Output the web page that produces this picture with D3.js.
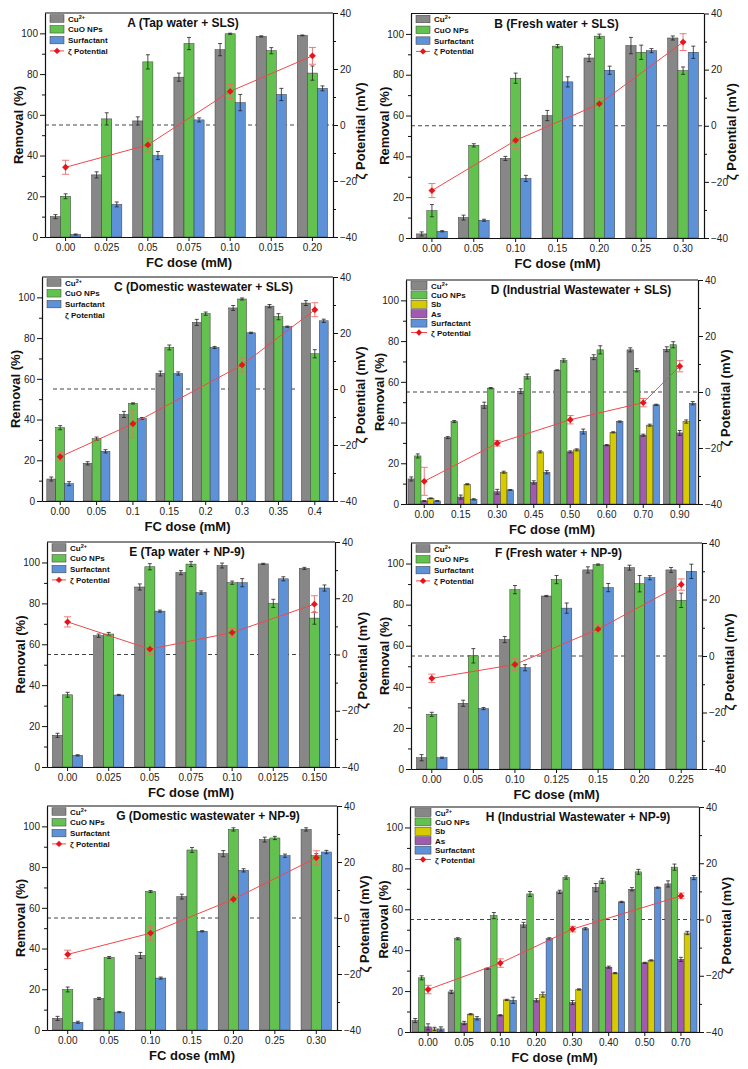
<!DOCTYPE html>
<html><head><meta charset="utf-8">
<script src="https://cdn.jsdelivr.net/npm/d3@7"></script>
<style>body{margin:0;background:#fff}svg{display:block;font-family:"Liberation Sans",Arial,sans-serif}</style>
</head><body><svg id="chart" width="748" height="1069"></svg>
<script>
// ---------------- DATA ----------------
const titles = ["A (Tap water + SLS)","B (Fresh water + SLS)","C (Domestic wastewater + SLS)","D (Industrial Wastewater + SLS)",
  "E (Tap water + NP-9)","F (Fresh water + NP-9)","G (Domestic wastewater + NP-9)","H (Industrial Wastewater + NP-9)"];
const yTicks = [0,20,40,60,80,100];
const zTicks = [-40,-20,0,20,40];

// Panel A
const catsA = ["0.00","0.025","0.05","0.075","0.10","0.015","0.20"];
const cuA = [10,30.5,57,78.5,92,98.5,99];
const cuErrA = [1,1.5,2,2,3,0.3,0.2];
const cuoA = [20,58,86,95,99.8,91.5,80.5];
const cuoErrA = [1.2,3,3.5,3,0.3,1.5,3.5];
const surfA = [1.2,16,40,57.5,66,70,73];
const surfErrA = [0.3,1.2,2,1,4,3,1.2];
const zetaA = [-15.1,null,-7.1,null,12,null,24.7];
const zetaErrA = [2.5,null,2.5,null,2.5,null,3];

// Panel B
const catsB = ["0.00","0.05","0.10","0.15","0.20","0.25","0.30"];
const cuB = [2,10,39,60,88.2,94.3,98];
const cuErrB = [1,1.2,1,2.5,1.8,4,1];
const cuoB = [13.4,45.4,78.3,94,98.9,91,82];
const cuoErrB = [3,0.8,2.5,0.8,1,3.5,1.8];
const surfB = [3.3,8.7,29.2,76.5,82.2,91.8,91];
const surfErrB = [0.3,0.5,1.5,2.5,2,1,3];
const zetaB = [-23.1,null,-5.2,null,7.8,null,29.8];
const zetaErrB = [2.5,null,3,null,2,null,3];

// Panel C
const catsC = ["0.00","0.05","0.1","0.15","0.2","0.3","0.35","0.4"];
const cuC = [10.8,18.5,42.5,62.6,87.7,94.8,95.7,97.2];
const cuErrC = [1,0.8,1.5,1.2,1.5,1.2,0.8,1.2];
const cuoC = [36,30.6,47.9,75.4,92,99.2,90.5,72.3];
const cuoErrC = [1,0.8,0.3,1.2,0.8,0.5,1.5,2];
const surfC = [8.5,24.4,40.5,62.6,75.4,82.6,85.6,88.5];
const surfErrC = [1,0.8,0.5,0.8,0.5,0.3,0.3,0.8];
const zetaC = [-24.2,null,-12.4,null,null,8.6,null,28.3];
const zetaErrC = [1.5,null,5,null,null,2.5,null,2.5];

// Panel D
const catsD = ["0.00","0.15","0.30","0.45","0.50","0.60","0.70","0.90"];
const cuD = [12.3,32.6,48.5,55.4,65.7,72.1,75.7,76];
const cuErrD = [1,0.5,1.5,1.2,0.2,1.2,1,1.2];
const cuoD = [23.6,40.5,56.9,62.6,70.5,75.7,65.7,78.2];
const cuoErrD = [1,0.5,0.3,1.2,0.8,2,0.8,1.5];
const asD = [1.5,3.4,6,10.6,25.6,28.9,33.8,34.9];
const asErrD = [0.2,1,1.2,0.8,0.5,0.3,0.5,1.2];
const sbD = [2.8,9.7,15.6,25.6,26.6,35.2,38.7,40.5];
const sbErrD = [0.2,0.3,0.5,0.5,0.5,0.3,0.5,0.8];
const surfD = [1.5,2.3,6.9,15.6,35.6,40.5,48.7,49.5];
const surfErrD = [0.2,0.3,0.2,0.8,1.2,0.3,0.3,0.8];
const zetaD = [-31.9,null,-18.3,null,-9.9,null,-3.8,9.2];
const zetaErrD = [5,null,1,null,1.5,null,1.5,2];

// Panel E
const catsE = ["0.00","0.025","0.05","0.075","0.10","0.0125","0.150"];
const cuE = [15.5,64.2,88,95,98.5,99.3,97.1];
const cuErrE = [1,0.8,1.5,1,1.2,0.3,0.5];
const cuoE = [35.3,65,97.9,99.2,90.1,80,72.8];
const cuoErrE = [1.2,0.8,1.5,1.2,0.8,2,3];
const surfE = [5.7,35.2,76.2,85.3,90.1,92,87.5];
const surfErrE = [0.3,0.3,0.5,0.8,2,1,1.5];
const zetaE = [11.6,null,1.9,null,7.8,null,17.9];
const zetaErrE = [1.8,null,2,null,1.5,null,3];

// Panel F
const catsF = ["0.00","0.05","0.10","0.125","0.15","0.20","0.225"];
const cuF = [5.5,32,63,84.2,96.9,98,96.9];
const cuErrF = [1.5,1.5,1.5,0.3,1.5,1.2,1.2];
const cuoF = [26.6,55.1,87.3,92.2,99.5,90.2,82.1];
const cuoErrF = [1,3.5,2,2,0.3,4,3.5];
const surfF = [5.5,29.4,49.3,78.3,88.3,93.1,96.2];
const surfErrF = [0.3,0.5,1.5,2.5,2,1,3.5];
const zetaF = [-7.9,null,-3,null,9.5,null,25.3];
const zetaErrF = [1.5,null,2,null,1.5,null,2];

// Panel G
const catsG = ["0.00","0.05","0.10","0.15","0.20","0.25","0.30"];
const cuG = [5.7,15.5,36.6,65.5,86.6,93.5,98.5];
const cuErrG = [1,0.5,1.5,1.2,1.5,1.2,0.8];
const cuoG = [19.9,35.6,68,88.4,98.5,94.3,85.6];
const cuoErrG = [1.2,0.5,0.5,1.2,0.8,0.8,1];
const surfG = [3.8,8.8,25.5,48.5,78.4,85.6,87.4];
const surfErrG = [0.5,0.3,0.5,0.3,0.8,0.8,0.8];
const zetaG = [-13,null,-5.4,null,6.7,null,21.5];
const zetaErrG = [1.5,null,2.5,null,1.5,null,2.5];

// Panel H
const catsH = ["0.00","0.05","0.10","0.20","0.30","0.40","0.50","0.70"];
const cuH = [5.6,19.6,31,52.4,68.5,70.6,69.8,72.4];
const cuErrH = [1,0.8,0.3,1.2,0.8,2,0.8,1.5];
const cuoH = [26.5,45.6,56.9,67.5,75.5,73.9,78.3,80.6];
const cuoErrH = [1,0.5,1.5,1.2,0.8,1.2,1.2,1.5];
const asH = [2.5,4.4,8.2,15.5,14.4,31.7,33.8,35.5];
const asErrH = [1.5,0.8,0.3,0.8,1,0.5,0.3,1];
const sbH = [1.5,8.7,15.7,18.3,20.8,28.8,35,48.4];
const sbErrH = [0.8,0.3,0.3,1.2,0.3,0.3,0.3,0.8];
const surfH = [1.5,6.7,15.5,45.6,50.5,63.6,70.6,75.5];
const surfErrH = [1,0.8,1.5,0.5,0.5,0.3,0.3,1];
const zetaH = [-24.9,null,-15.5,null,-3.4,null,null,8.4];
const zetaErrH = [1.5,null,1.5,null,1,null,null,1];

// ---------------- STYLE ----------------
const COLORS = {cu:"#878787", cuo:"#63c24f", sb:"#d6cb00", as:"#a05aae", surf:"#5e92d8", zeta:"#e8141b"};
const NAMES = {cu:"Cu", cuo:"CuO NPs", sb:"Sb", as:"As", surf:"Surfactant"};

const panels = [
  {cats:catsA, bars:[["cu",cuA,cuErrA],["cuo",cuoA,cuoErrA],["surf",surfA,surfErrA]], zeta:zetaA, zetaErr:zetaErrA, x0:45,x1:333,y0:13,y1:237,tdx:-6},
  {cats:catsB, bars:[["cu",cuB,cuErrB],["cuo",cuoB,cuoErrB],["surf",surfB,surfErrB]], zeta:zetaB, zetaErr:zetaErrB, x0:411,x1:704,y0:13.5,y1:238,tdx:-1},
  {cats:catsC, bars:[["cu",cuC,cuErrC],["cuo",cuoC,cuoErrC],["surf",surfC,surfErrC]], zeta:zetaC, zetaErr:zetaErrC, x0:42,x1:333,y0:277,y1:501,tdx:16, noZetaLegend:true, dash:[11,35]},
  {cats:catsD, bars:[["cu",cuD,cuErrD],["cuo",cuoD,cuoErrD],["as",asD,asErrD],["sb",sbD,sbErrD],["surf",surfD,surfErrD]], legendOrder:["cu","cuo","sb","as","surf"], zeta:zetaD, zetaErr:zetaErrD, x0:406,x1:698,y0:280,y1:504,tdx:29},
  {cats:catsE, bars:[["cu",cuE,cuErrE],["cuo",cuoE,cuoErrE],["surf",surfE,surfErrE]], zeta:zetaE, zetaErr:zetaErrE, x0:47,x1:335,y0:542,y1:767,tdx:-4},
  {cats:catsF, bars:[["cu",cuF,cuErrF],["cuo",cuoF,cuoErrF],["surf",surfF,surfErrF]], zeta:zetaF, zetaErr:zetaErrF, x0:411,x1:702,y0:543,y1:769,tdx:2},
  {cats:catsG, bars:[["cu",cuG,cuErrG],["cuo",cuoG,cuoErrG],["surf",surfG,surfErrG]], zeta:zetaG, zetaErr:zetaErrG, x0:47,x1:337,y0:806,y1:1030,tdx:16},
  {cats:catsH, bars:[["cu",cuH,cuErrH],["cuo",cuoH,cuoErrH],["as",asH,asErrH],["sb",sbH,sbErrH],["surf",surfH,surfErrH]], legendOrder:["cu","cuo","sb","as","surf"], zeta:zetaH, zetaErr:zetaErrH, x0:410,x1:699,y0:807,y1:1032,tdx:23.5}
];

const svg = d3.select("#chart");

function drawPanel(p, idx) {
  const g = svg.append("g");
  const x = d3.scaleBand().domain(p.cats).range([p.x0, p.x1]).paddingInner(0).paddingOuter(0);
  const y = d3.scaleLinear().domain([0,110]).range([p.y1, p.y0]);
  const yz = d3.scaleLinear().domain([-40,40]).range([p.y1, p.y0]);
  const n = p.bars.length;
  const bw = n === 3 ? x.step()*0.245 : x.step()*0.178;
  const xs = d3.scaleBand().domain(d3.range(n)).range([-bw*n/2, bw*n/2]);
  const cx = c => x(c) + x.bandwidth()/2;

  // dashed zero line
  const dash = p.dash || [0,0];
  g.append("line").attr("x1", p.x0 + dash[0]).attr("x2", p.x1 - dash[1])
    .attr("y1", yz(0)).attr("y2", yz(0))
    .attr("stroke", "#444").attr("stroke-width", 1).attr("stroke-dasharray", "4,3");

  // bars
  p.bars.forEach(([key, vals, errs], si) => {
    const bg = g.append("g");
    bg.selectAll("rect").data(vals).join("rect")
      .attr("x", (d,i) => cx(p.cats[i]) + xs(si))
      .attr("y", d => y(d)).attr("width", bw).attr("height", d => y(0) - y(d))
      .attr("fill", COLORS[key]).attr("stroke", "#3a3a3a").attr("stroke-width", 0.5);
    const eg = bg.selectAll("g.err").data(vals).join("g").attr("class","err");
    eg.each(function(d,i){
      const e = errs[i]; if (!e) return;
      const xm = cx(p.cats[i]) + xs(si) + bw/2;
      const s = d3.select(this);
      s.append("line").attr("x1", xm).attr("x2", xm).attr("y1", y(d+e)).attr("y2", y(Math.max(0,d-e)));
      s.append("line").attr("x1", xm-2).attr("x2", xm+2).attr("y1", y(d+e)).attr("y2", y(d+e));
      s.append("line").attr("x1", xm-2).attr("x2", xm+2).attr("y1", y(Math.max(0,d-e))).attr("y2", y(Math.max(0,d-e)));
      s.selectAll("line").attr("stroke", "#222").attr("stroke-width", 0.8);
    });
  });

  // zeta line
  const zpts = p.zeta.map((v,i) => ({v, e:p.zetaErr[i], c:p.cats[i]})).filter(d => d.v !== null);
  g.append("path").datum(zpts)
    .attr("d", d3.line().x(d => cx(d.c)).y(d => yz(d.v)))
    .attr("fill","none").attr("stroke","#f0484b").attr("stroke-width",1);
  zpts.forEach(d => {
    const xm = cx(d.c);
    [[xm,xm,yz(d.v+d.e),yz(d.v-d.e)],[xm-3.5,xm+3.5,yz(d.v+d.e),yz(d.v+d.e)],[xm-3.5,xm+3.5,yz(d.v-d.e),yz(d.v-d.e)]]
      .forEach(l => g.append("line").attr("x1",l[0]).attr("x2",l[1]).attr("y1",l[2]).attr("y2",l[3])
        .attr("stroke","#ee6a6a").attr("stroke-width",0.9));
  });
  g.selectAll("path.zm").data(zpts).join("path").attr("class","zm")
    .attr("transform", d => `translate(${cx(d.c)},${yz(d.v)})`)
    .attr("d", d3.symbol(d3.symbolDiamond2, 30)).attr("fill", COLORS.zeta);

  // frame / axes
  const axStyle = a => {
    a.selectAll("text").attr("font-size", 10).attr("fill", "#222");
    a.selectAll("line").attr("stroke", "#111");
    a.select(".domain").attr("stroke", "#111").attr("stroke-width", 1.1);
  };
  g.append("g").attr("transform", `translate(${p.x0},0)`)
    .call(d3.axisLeft(y).tickValues(yTicks).tickSize(5).tickPadding(2).tickSizeOuter(0)).call(axStyle);
  g.append("g").attr("transform", `translate(${p.x0},0)`)
    .call(d3.axisLeft(y).tickValues([10,30,50,70,90]).tickSize(3).tickFormat("").tickSizeOuter(0)).call(axStyle);
  g.append("g").attr("transform", `translate(${p.x1},0)`)
    .call(d3.axisRight(yz).tickValues(zTicks).tickSize(5).tickPadding(2).tickSizeOuter(0)).call(axStyle);
  g.append("g").attr("transform", `translate(${p.x1},0)`)
    .call(d3.axisRight(yz).tickValues([-30,-10,10,30]).tickSize(3).tickFormat("").tickSizeOuter(0)).call(axStyle);
  g.append("g").attr("transform", `translate(0,${p.y1})`)
    .call(d3.axisBottom(x).tickSize(4).tickPadding(3).tickSizeOuter(0)).call(axStyle);
  g.append("line").attr("x1", p.x0).attr("x2", p.x1).attr("y1", p.y0).attr("y2", p.y0)
    .attr("stroke", "#111").attr("stroke-width", 1.1);

  // titles
  const midX = (p.x0 + p.x1)/2, midY = (p.y0 + p.y1)/2;
  g.append("text").attr("x", midX + p.tdx).attr("y", p.y0 + 14).attr("text-anchor","middle")
    .attr("font-size", 12).attr("font-weight","bold").attr("fill","#111").text(titles[idx]);
  g.append("text").attr("x", midX).attr("y", p.y1 + 30).attr("text-anchor","middle")
    .attr("font-size", 13).attr("font-weight","bold").attr("fill","#111").text("FC dose (mM)");
  g.append("text").attr("transform", `translate(${p.x0-22},${midY}) rotate(-90)`).attr("text-anchor","middle")
    .attr("font-size", 13).attr("font-weight","bold").attr("fill","#111").text("Removal (%)");
  g.append("text").attr("transform", `translate(${p.x1+32},${midY+6}) rotate(-90)`).attr("text-anchor","middle")
    .attr("font-size", 13).attr("font-weight","bold").attr("fill","#111").text("ζ Potential (mV)");

  // legend
  const order = p.legendOrder || p.bars.map(b => b[0]);
  const rowH = n === 3 ? 10.8 : 9.4;
  const sw = n === 3 ? 14 : 16, sh = n === 3 ? 7.5 : 8;
  const lx = p.x0 + 5, ly = p.y0 + 5.5;
  order.forEach((k, i) => {
    const yy = ly + i*rowH;
    g.append("rect").attr("x", lx).attr("y", yy - sh/2).attr("width", sw).attr("height", sh)
      .attr("fill", COLORS[k]).attr("stroke","#3a3a3a").attr("stroke-width",0.5);
    const t = g.append("text").attr("x", lx + sw + 4).attr("y", yy + 3).attr("font-size", 8)
      .attr("font-weight","bold").attr("fill","#111").text(NAMES[k]);
    if (k === "cu") t.append("tspan").attr("dy", -3).attr("font-size", 5.5).text("2+");
  });
  const zy = ly + order.length*rowH;
  if (!p.noZetaLegend) {
    g.append("line").attr("x1", lx).attr("x2", lx + sw).attr("y1", zy).attr("y2", zy)
      .attr("stroke", "#f0484b").attr("stroke-width", 1);
    g.append("path").attr("transform", `translate(${lx + sw/2},${zy})`)
      .attr("d", d3.symbol(d3.symbolDiamond2, 26)).attr("fill", COLORS.zeta);
  }
  g.append("text").attr("x", lx + sw + 4).attr("y", zy + 3).attr("font-size", 8)
    .attr("font-weight","bold").attr("fill","#111").text("ζ Potential");
}

panels.forEach(drawPanel);
</script>
</body></html>
